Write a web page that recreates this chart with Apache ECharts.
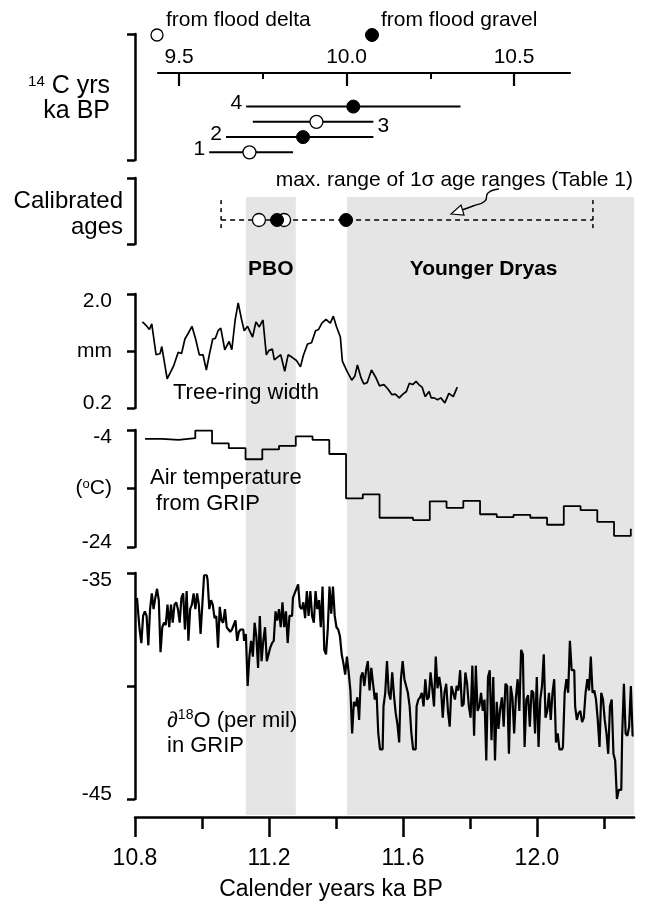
<!DOCTYPE html>
<html><head><meta charset="utf-8">
<script src="https://cdn.jsdelivr.net/npm/echarts@6/dist/echarts.min.js"></script>
<style>html,body{margin:0;padding:0;background:#fff}#c{width:647px;height:905px}</style>
</head><body><div id="c"></div>
<script>
const FONT = '"Liberation Sans", Arial, Helvetica, sans-serif';

// ---- radiocarbon ages (14C ka BP) ----
const c14Sample = [1, 2, 3, 4];
const c14Low  = [9.59, 9.64, 9.72, 9.70];
const c14High = [9.84, 10.08, 10.08, 10.34];
const c14Mid  = [9.71, 9.87, 9.91, 10.02];
const c14Type = ['delta', 'gravel', 'delta', 'gravel'];
const c14LabelSide = ['left', 'left', 'right', 'left'];
const c14MajorTicks = [9.5, 10.0, 10.5];
const c14MinorTicks = [9.75, 10.25];

// ---- calibrated ages (cal ka BP) ----
const calDelta  = [11.17, 11.245];
const calGravel = [11.224, 11.43];
const calRange  = [11.057, 12.167];

// ---- periods ----
const periodNames = ['PBO', 'Younger Dryas'];
const periodFrom  = [11.131, 11.433];
const periodTo    = [11.28, 12.29];

// ---- calendar axis ----
const calMajorTicks = [10.8, 11.2, 11.6, 12.0];
const calMinorTicks = [11.0, 11.4, 11.8, 12.2];

// ---- tree-ring width (mm) ----
const treeAge = [10.822,10.834,10.843,10.850,10.863,10.875,10.880,10.896,10.915,10.929,
10.939,10.949,10.959,10.970,10.981,10.992,11.003,11.013,11.023,11.032,
11.040,11.048,11.056,11.068,11.081,11.089,11.099,11.108,11.118,11.126,
11.136,11.151,11.161,11.171,11.182,11.192,11.200,11.210,11.216,11.225,
11.235,11.247,11.257,11.269,11.282,11.294,11.302,11.315,11.327,11.339,
11.348,11.358,11.370,11.383,11.392,11.401,11.413,11.419,11.432,11.447,
11.456,11.464,11.475,11.483,11.493,11.506,11.518,11.530,11.543,11.555,
11.567,11.577,11.589,11.598,11.610,11.619,11.629,11.639,11.647,11.657,
11.666,11.678,11.684,11.693,11.703,11.713,11.725,11.737,11.750,11.762];
const treeWidth = [1.56,1.50,1.44,1.53,1.04,1.06,1.17,0.66,0.86,1.08,
1.06,1.29,1.38,1.49,1.29,1.04,1.04,0.80,1.07,1.29,
1.30,1.42,1.46,1.12,1.25,1.12,1.59,1.86,1.60,1.42,
1.49,1.32,1.56,1.48,1.59,1.04,1.11,1.13,0.96,1.00,
1.04,0.78,1.04,1.00,0.95,0.85,1.02,1.21,1.23,1.42,
1.44,1.54,1.60,1.54,1.65,1.49,1.32,0.94,0.79,0.64,
0.70,0.88,0.67,0.58,0.60,0.80,0.69,0.55,0.57,0.50,
0.41,0.42,0.36,0.41,0.46,0.59,0.57,0.62,0.57,0.53,
0.38,0.46,0.36,0.36,0.33,0.36,0.28,0.43,0.38,0.53];

// ---- GRIP air temperature (degC), 50-yr steps ----
const tempAge = [10.83,10.88,10.93,10.98,11.03,11.08,11.13,11.18,11.23,11.28,11.33,11.38,11.43,11.48,11.53,
11.63,11.68,11.73,11.78,11.83,11.88,11.93,11.98,12.03,12.08,12.13,12.18,12.23,12.28];
const tempValue = [-5.5,-5.7,-5.4,-4.1,-6.3,-7.1,-9.0,-7.3,-6.7,-5.1,-5.7,-8.1,-15.7,-15.0,-19.0,
-19.4,-16.2,-17.3,-16.1,-18.4,-18.9,-18.5,-19.0,-20.2,-17.0,-17.7,-19.7,-22.1,-20.9];

// ---- GRIP d18O (per mil), regularly sampled ----
const d18oStartAge = 10.806;
const d18oStepKa = 0.0052;
const d18oValue = [
-36.1,-36.6,-37.5,-38.1,-36.9,-36.7,-36.9,-38.2,-36.6,-35.9,
-36.6,-36.1,-35.7,-36.2,-38.5,-37.4,-37.2,-37.3,-36.4,-37.4,
-36.4,-37.2,-36.4,-36.3,-36.6,-37.2,-36.1,-35.9,-37.5,-35.8,
-38.0,-36.6,-36.4,-35.9,-36.6,-35.9,-36.4,-37.7,-36.4,-35.1,
-35.1,-35.3,-36.6,-36.2,-36.4,-37.0,-36.9,-38.3,-36.5,-37.1,
-37.2,-36.6,-37.4,-37.5,-37.6,-37.5,-37.3,-37.1,-38.0,-37.6,
-37.5,-37.5,-38.0,-37.7,-40.0,-38.7,-38.0,-38.7,-37.2,-37.8,
-39.2,-36.9,-38.9,-38.0,-37.4,-38.9,-38.6,-38.3,-38.1,-38.0,
-36.7,-37.1,-36.6,-37.4,-36.3,-37.4,-36.7,-38.1,-36.9,-36.9,
-36.1,-35.9,-35.7,-35.5,-36.5,-36.6,-36.3,-37.0,-35.8,-36.9,
-35.8,-36.9,-37.2,-35.8,-36.6,-36.2,-37.4,-35.6,-38.4,-38.6,
-37.5,-35.6,-36.8,-35.6,-36.9,-37.4,-37.5,-37.8,-38.6,-39.0,
-39.5,-38.7,-39.4,-40.2,-42.1,-40.7,-40.9,-40.5,-41.5,-39.6,
-39.4,-40.0,-39.3,-38.9,-40.2,-39.2,-39.9,-40.6,-40.3,-42.1,
-42.8,-42.8,-40.9,-40.3,-38.9,-40.3,-40.6,-39.4,-40.4,-41.2,
-41.7,-42.5,-39.7,-38.9,-39.7,-40.0,-40.3,-40.9,-42.1,-42.8,
-42.8,-40.9,-40.6,-40.5,-40.3,-40.9,-39.7,-40.6,-40.5,-39.4,
-40.1,-40.9,-38.7,-40.1,-39.6,-40.1,-41.4,-40.3,-39.9,-41.1,
-41.8,-40.0,-40.3,-40.6,-40.0,-40.2,-39.3,-40.9,-40.8,-39.4,
-39.9,-40.9,-41.4,-39.1,-42.2,-39.1,-41.1,-40.9,-40.3,-41.1,
-40.6,-43.3,-39.6,-39.3,-42.4,-39.6,-43.3,-40.7,-41.9,-41.0,
-40.5,-41.8,-39.9,-40.0,-43.0,-40.0,-40.5,-42.1,-40.5,-39.7,
-41.1,-38.4,-38.6,-42.7,-40.6,-40.4,-41.8,-40.2,-40.3,-42.1,
-39.6,-42.7,-40.6,-40.0,-38.6,-41.4,-41.1,-40.3,-41.5,-40.3,
-39.7,-42.5,-42.1,-42.8,-42.8,-42.7,-40.3,-39.7,-40.3,-38.0,
-39.3,-39.3,-40.9,-41.5,-41.2,-41.1,-41.6,-41.4,-40.3,-39.7,
-40.2,-38.7,-40.3,-40.2,-40.6,-41.5,-42.7,-40.3,-40.6,-41.5,
-42.1,-43.0,-40.9,-40.6,-43.0,-43.3,-45.0,-44.6,-44.6,-42.2,
-39.9,-42.1,-42.2,-41.8,-40.0,-42.2];

// ================= chart =================
const chart = echarts.init(document.getElementById('c'), null, {renderer: 'canvas'});
const BLACK = '#000';
const X_MIN = 10.8, X_MAX = 12.29;
const L = 135, R = 12.85;

const zip = (a, b) => a.map((v, i) => [v, b[i]]);
const d18oData = d18oValue.map((v, i) => [d18oStartAge + i * d18oStepKa, v]);

function hiddenX(gi, min, max) {
  return {gridIndex: gi, type: 'value', min: min, max: max, show: false};
}
function hiddenY(gi, min, max) {
  return {gridIndex: gi, type: 'value', min: min, max: max, show: false};
}
// rich styles that pull the end labels of a bracket axis inward
const endRich = {
  top: {fontSize: 21, fontFamily: FONT, color: BLACK, padding: [14, 0, 0, 0]},
  bot: {fontSize: 21, fontFamily: FONT, color: BLACK, padding: [0, 0, 9, 0]},
  sup: {fontSize: 13, fontFamily: FONT, color: BLACK, verticalAlign: 'top', padding: [0, 0, 9, 0]}
};
function bracketY(gi, min, max, ticks, fmt) {
  return {
    gridIndex: gi, type: 'value', min: min, max: max, position: 'left',
    splitLine: {show: false},
    axisLine: {show: true, lineStyle: {color: BLACK, width: 2.5}},
    axisTick: {show: true, inside: false, length: 8, customValues: ticks, lineStyle: {color: BLACK, width: 2.5}},
    axisLabel: fmt ? {show: true, customValues: ticks, margin: 23, color: BLACK, fontSize: 21,
      fontFamily: FONT, rich: endRich,
      formatter: v => {
        const t = fmt(v);
        if (!t) return '';
        if (Math.abs(v - max) < 1e-9) return '{top|' + t + '}';
        if (Math.abs(v - min) < 1e-9) return '{bot|' + t + '}';
        return t;
      }} : {show: false}
  };
}
const symbolStyle = t => t === 'delta'
  ? {color: '#fff', borderColor: BLACK, borderWidth: 1.3, opacity: 1}
  : {color: BLACK, borderColor: BLACK, borderWidth: 1, opacity: 1};

const option = {
  animation: false,
  backgroundColor: '#fff',
  grid: [
    {left: 158, width: 412, top: 73, height: 87},           // 0 14C data
    {left: L, width: 10, top: 34, height: 126},              // 1 14C bracket
    {left: L, width: 10, top: 178, height: 66},              // 2 calibrated bracket
    {left: L, right: R, top: 196, height: 48},               // 3 calibrated data
    {left: L, right: R, top: 197, height: 618},              // 4 period bands
    {left: L, right: R, top: 294, height: 114},              // 5 tree-ring
    {left: L, right: R, top: 430, height: 117},              // 6 temperature
    {left: L, right: R, top: 573, height: 226}               // 7 d18O
  ],
  xAxis: [
    {gridIndex: 0, type: 'value', position: 'top', min: 9.437, max: 10.667,
      splitLine: {show: false},
      axisLine: {show: true, lineStyle: {color: BLACK, width: 2.2}},
      axisTick: {show: true, inside: true, length: 13, customValues: c14MajorTicks, lineStyle: {color: BLACK, width: 2.2}},
      axisLabel: {show: true, customValues: c14MajorTicks, margin: 5, color: BLACK, fontSize: 21, fontFamily: FONT,
        formatter: v => v.toFixed(1)}},
    {gridIndex: 0, type: 'value', position: 'top', min: 9.437, max: 10.667,
      splitLine: {show: false}, axisLine: {show: false},
      axisTick: {show: true, inside: true, length: 6, customValues: c14MinorTicks, lineStyle: {color: BLACK, width: 2}},
      axisLabel: {show: false}},
    hiddenX(1, 0, 1),
    hiddenX(2, 0, 1),
    hiddenX(3, X_MIN, X_MAX),
    hiddenX(4, X_MIN, X_MAX),
    hiddenX(5, X_MIN, X_MAX),
    hiddenX(6, X_MIN, X_MAX),
    {gridIndex: 7, type: 'value', position: 'bottom', offset: 18, min: X_MIN, max: X_MAX,
      splitLine: {show: false},
      axisLine: {show: true, lineStyle: {color: BLACK, width: 2.5}},
      axisTick: {show: true, inside: false, length: 20, customValues: calMajorTicks, lineStyle: {color: BLACK, width: 2.5}},
      axisLabel: {show: true, customValues: calMajorTicks, margin: 30, color: BLACK, fontSize: 23, fontFamily: FONT,
        formatter: v => v.toFixed(1)}},
    {gridIndex: 7, type: 'value', position: 'bottom', offset: 18, min: X_MIN, max: X_MAX,
      splitLine: {show: false}, axisLine: {show: false},
      axisTick: {show: true, inside: false, length: 12, customValues: calMinorTicks, lineStyle: {color: BLACK, width: 2.5}},
      axisLabel: {show: false}}
  ],
  yAxis: [
    hiddenY(0, 0.5, 6.2),
    bracketY(1, 0, 1, [0, 1], null),
    bracketY(2, 0, 1, [0, 1], null),
    hiddenY(3, -1, 1),
    hiddenY(4, 0, 1),
    bracketY(5, 0.2, 2.0, [0.2, 1.1, 2.0], v => Math.abs(v - 1.1) < 1e-6 ? 'mm' : v.toFixed(1)),
    bracketY(6, -24, -4, [-24, -14, -4], v => v === -14 ? '({sup|o}C)' : String(v)),
    bracketY(7, -45, -35, [-45, -40, -35], v => v === -40 ? '' : String(v))
  ],
  series: [
    // period bands
    {type: 'line', xAxisIndex: 5, yAxisIndex: 4, data: [], z: -1, silent: true,
      markArea: {silent: true, itemStyle: {color: '#e5e5e5'},
        label: {show: true, position: 'insideTop', distance: 62, color: BLACK, fontSize: 21,
          fontWeight: 'bold', fontFamily: FONT},
        data: periodNames.map((n, i) => [{name: n, xAxis: periodFrom[i],
          label: {offset: [i === 1 ? -7 : 0, 0]}}, {xAxis: periodTo[i]}])}},
    // 14C error bars
    {type: 'custom', xAxisIndex: 0, yAxisIndex: 0,
      data: c14Sample.map((n, i) => [n, c14Low[i], c14High[i]]),
      encode: {x: [1, 2], y: 0},
      renderItem: (params, api) => {
        const n = api.value(0), lo = api.value(1), hi = api.value(2);
        const p1 = api.coord([lo, n]), p2 = api.coord([hi, n]);
        const right = c14LabelSide[params.dataIndex] === 'right';
        return {type: 'group', children: [
          {type: 'line', shape: {x1: p1[0], y1: p1[1], x2: p2[0], y2: p2[1]}, style: {stroke: BLACK, lineWidth: 2}},
          {type: 'text', style: {text: String(n), x: right ? p2[0] + 4 : p1[0] - 4,
            y: p1[1] + (right ? 4 : -3), align: right ? 'left' : 'right', verticalAlign: 'middle',
            font: '21px ' + FONT, fill: BLACK}}
        ]};
      }},
    // 14C central values
    {type: 'scatter', xAxisIndex: 0, yAxisIndex: 0, symbol: 'circle', symbolSize: 13, z: 5,
      data: c14Sample.map((n, i) => ({value: [c14Mid[i], n], itemStyle: symbolStyle(c14Type[i])}))},
    // calibrated range (dashed) and end caps
    {type: 'line', xAxisIndex: 4, yAxisIndex: 3, symbol: 'none', z: 4,
      lineStyle: {color: BLACK, width: 1.5, type: [5, 4]}, data: calRange.map(v => [v, 0])},
    ...calRange.map(v => ({type: 'line', xAxisIndex: 4, yAxisIndex: 3, symbol: 'none', z: 4,
      lineStyle: {color: BLACK, width: 1.5, type: [4, 4]}, data: [[v, 0.83], [v, -0.5]]})),
    {type: 'scatter', xAxisIndex: 4, yAxisIndex: 3, symbol: 'circle', symbolSize: 13, z: 5,
      itemStyle: symbolStyle('delta'), data: calDelta.map(v => [v, 0])},
    {type: 'scatter', xAxisIndex: 4, yAxisIndex: 3, symbol: 'circle', symbolSize: 13, z: 6,
      itemStyle: symbolStyle('gravel'), data: calGravel.map(v => [v, 0])},
    // tree-ring width
    {type: 'line', xAxisIndex: 6, yAxisIndex: 5, symbol: 'none', z: 4,
      lineStyle: {color: BLACK, width: 1.7}, data: zip(treeAge, treeWidth)},
    // temperature
    {type: 'line', xAxisIndex: 7, yAxisIndex: 6, symbol: 'none', step: 'end', z: 4,
      lineStyle: {color: BLACK, width: 1.8}, data: zip(tempAge, tempValue)},
    // d18O
    {type: 'line', xAxisIndex: 8, yAxisIndex: 7, symbol: 'none', step: 'middle', z: 4,
      lineStyle: {color: BLACK, width: 2.2}, data: d18oData}
  ],
  graphic: [
    // legend
    {type: 'circle', z: 50, shape: {cx: 157, cy: 35, r: 6}, style: {fill: '#fff', stroke: BLACK, lineWidth: 1.3}},
    {type: 'text', z: 50, style: {x: 166, y: 20, text: 'from flood delta', font: '21px ' + FONT, fill: BLACK, verticalAlign: 'middle'}},
    {type: 'circle', z: 50, shape: {cx: 372, cy: 35, r: 6.5}, style: {fill: BLACK, stroke: BLACK}},
    {type: 'text', z: 50, style: {x: 381, y: 20, text: 'from flood gravel', font: '21px ' + FONT, fill: BLACK, verticalAlign: 'middle'}},
    // panel names
    {type: 'text', z: 50, style: {x: 110, y: 99, align: 'right', verticalAlign: 'middle',
      text: '{s|14}{n| C yrs}\n{n|ka BP}', rich: {
        s: {fontSize: 15, fontFamily: FONT, fill: BLACK, verticalAlign: 'top', padding: [0, 0, 10, 0]},
        n: {fontSize: 25, fontFamily: FONT, fill: BLACK, lineHeight: 25}}}},
    {type: 'text', z: 50, style: {x: 123, y: 214, align: 'right', verticalAlign: 'middle',
      text: 'Calibrated\nages', font: '24px ' + FONT, fill: BLACK, lineHeight: 26}},
    {type: 'text', z: 50, style: {x: 633, y: 180, align: 'right', verticalAlign: 'middle',
      text: 'max. range of 1\u03c3 age ranges (Table 1)', font: '21px ' + FONT, fill: BLACK}},
    {type: 'polyline', z: 50, shape: {points: [[499, 189], [488, 193], [485, 201], [473, 206], [462, 210]], smooth: 0.5},
      style: {stroke: BLACK, lineWidth: 1.4, fill: null}},
    {type: 'polygon', z: 51, shape: {points: [[451, 214], [464, 215], [461, 205]]},
      style: {fill: '#fff', stroke: BLACK, lineWidth: 1.2}},
    {type: 'text', z: 50, style: {x: 173, y: 393, verticalAlign: 'middle', text: 'Tree-ring width', font: '22px ' + FONT, fill: BLACK}},
    {type: 'text', z: 50, style: {x: 150, y: 491, verticalAlign: 'middle', text: 'Air temperature\n from GRIP',
      font: '22px ' + FONT, fill: BLACK, lineHeight: 26}},
    {type: 'text', z: 50, style: {x: 167, y: 733, verticalAlign: 'middle',
      text: '{n|\u2202}{s|18}{n|O (per mil)}\n{n|in GRIP}', rich: {
        s: {fontSize: 14, fontFamily: FONT, fill: BLACK, verticalAlign: 'top', padding: [0, 0, 9, 0]},
        n: {fontSize: 22, fontFamily: FONT, fill: BLACK, lineHeight: 25}}}},
    {type: 'text', z: 50, style: {x: 331, y: 890, align: 'center', verticalAlign: 'middle',
      text: 'Calender years ka BP', font: '23px ' + FONT, fill: BLACK}}
  ]
};
chart.setOption(option);
</script>
</body></html>
